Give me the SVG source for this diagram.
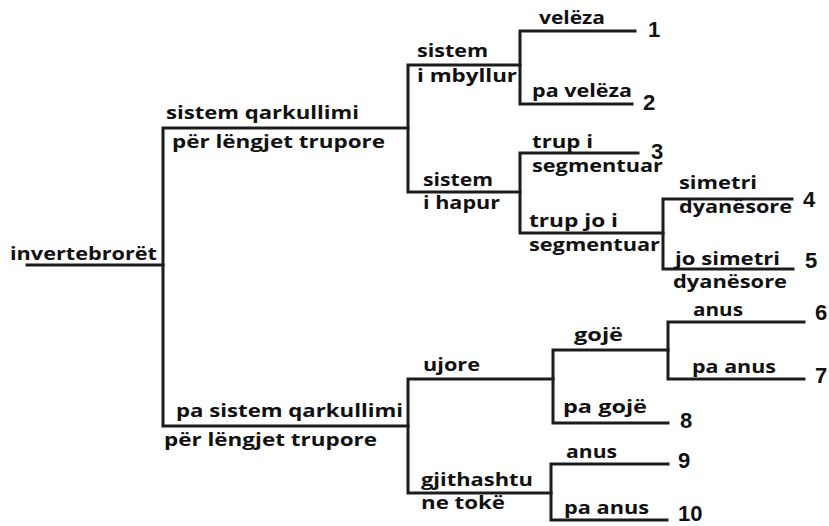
<svg xmlns="http://www.w3.org/2000/svg" width="829" height="526" viewBox="0 0 829 526">
<style>
.bg{fill:#ffffff}
.c path{fill:none;stroke:#1c1c1c;stroke-width:3;stroke-linecap:square;stroke-linejoin:miter}
.t{font-family:"Open Sans","Liberation Sans",sans-serif;font-weight:700;font-size:18px;fill:#111}
.n{font-family:"Liberation Sans","Open Sans",sans-serif;font-weight:700;font-size:22px;fill:#111}
</style>
<rect class="bg" x="0" y="0" width="829" height="526"/>
<g id="connectors" class="c">
<path d="M27,265 H163"/>
<path d="M408,128 H163 V426 H408"/>
<path d="M520,65 H408 V192 H520"/>
<path d="M635,31 H520 V104 H632"/>
<path d="M638,153 H520 V233 H663"/>
<path d="M792,199 H663 V269 H793"/>
<path d="M553,379 H408 V493 H551"/>
<path d="M668,350 H553 V423 H668"/>
<path d="M804,322 H668 V379 H804"/>
<path d="M668,464 H551 V520 H667"/>
</g>
<g id="n-root"><text class="t" x="10" y="260" textLength="147" lengthAdjust="spacingAndGlyphs">invertebrorët</text></g>
<g id="n-sistem-qarkullimi">
<text class="t" x="166" y="119" textLength="193" lengthAdjust="spacingAndGlyphs">sistem qarkullimi</text>
<text class="t" x="172" y="148" textLength="213" lengthAdjust="spacingAndGlyphs">për lëngjet trupore</text>
</g>
<g id="n-pa-sistem">
<text class="t" x="176" y="417" textLength="227" lengthAdjust="spacingAndGlyphs">pa sistem qarkullimi</text>
<text class="t" x="164" y="446" textLength="213" lengthAdjust="spacingAndGlyphs">për lëngjet trupore</text>
</g>
<g id="n-mbyllur">
<text class="t" x="417" y="57" textLength="71" lengthAdjust="spacingAndGlyphs">sistem</text>
<text class="t" x="417" y="82" textLength="100" lengthAdjust="spacingAndGlyphs">i mbyllur</text>
</g>
<g id="n-hapur">
<text class="t" x="423" y="186" textLength="70" lengthAdjust="spacingAndGlyphs">sistem</text>
<text class="t" x="423" y="209" textLength="77" lengthAdjust="spacingAndGlyphs">i hapur</text>
</g>
<g id="n-veleza"><text class="t" x="539" y="24" textLength="66" lengthAdjust="spacingAndGlyphs">velëza</text></g>
<g id="n-pa-veleza"><text class="t" x="532" y="97" textLength="100" lengthAdjust="spacingAndGlyphs">pa velëza</text></g>
<g id="n-segmentuar">
<text class="t" x="532" y="148" textLength="61" lengthAdjust="spacingAndGlyphs">trup i</text>
<text class="t" x="532" y="172" textLength="131" lengthAdjust="spacingAndGlyphs">segmentuar</text>
</g>
<g id="n-jo-segmentuar">
<text class="t" x="529" y="227" textLength="89" lengthAdjust="spacingAndGlyphs">trup jo i</text>
<text class="t" x="529" y="251" textLength="131" lengthAdjust="spacingAndGlyphs">segmentuar</text>
</g>
<g id="n-simetri">
<text class="t" x="679" y="189" textLength="78" lengthAdjust="spacingAndGlyphs">simetri</text>
<text class="t" x="679" y="213" textLength="113" lengthAdjust="spacingAndGlyphs">dyanësore</text>
</g>
<g id="n-jo-simetri">
<text class="t" x="675" y="265" textLength="105" lengthAdjust="spacingAndGlyphs">jo simetri</text>
<text class="t" x="673" y="288" textLength="114" lengthAdjust="spacingAndGlyphs">dyanësore</text>
</g>
<g id="n-ujore"><text class="t" x="423" y="371" textLength="57" lengthAdjust="spacingAndGlyphs">ujore</text></g>
<g id="n-gjithashtu">
<text class="t" x="421" y="486" textLength="112" lengthAdjust="spacingAndGlyphs">gjithashtu</text>
<text class="t" x="421" y="509" textLength="84" lengthAdjust="spacingAndGlyphs">ne tokë</text>
</g>
<g id="n-goje"><text class="t" x="574" y="341" textLength="49" lengthAdjust="spacingAndGlyphs">gojë</text></g>
<g id="n-pa-goje"><text class="t" x="563" y="413" textLength="84" lengthAdjust="spacingAndGlyphs">pa gojë</text></g>
<g id="n-anus-6"><text class="t" x="693" y="316" textLength="50" lengthAdjust="spacingAndGlyphs">anus</text></g>
<g id="n-pa-anus-7"><text class="t" x="692" y="373" textLength="84" lengthAdjust="spacingAndGlyphs">pa anus</text></g>
<g id="n-anus-9"><text class="t" x="566" y="458" textLength="51" lengthAdjust="spacingAndGlyphs">anus</text></g>
<g id="n-pa-anus-10"><text class="t" x="564" y="514" textLength="85" lengthAdjust="spacingAndGlyphs">pa anus</text></g>
<g id="n-1"><text class="n" x="648" y="37">1</text></g>
<g id="n-2"><text class="n" x="643" y="110">2</text></g>
<g id="n-3"><text class="n" x="651" y="159">3</text></g>
<g id="n-4"><text class="n" x="803" y="207">4</text></g>
<g id="n-5"><text class="n" x="805" y="268">5</text></g>
<g id="n-6"><text class="n" x="815" y="320">6</text></g>
<g id="n-7"><text class="n" x="815" y="383">7</text></g>
<g id="n-8"><text class="n" x="680" y="428">8</text></g>
<g id="n-9"><text class="n" x="678" y="468">9</text></g>
<g id="n-10"><text class="n" x="678" y="521">10</text></g>
</svg>
